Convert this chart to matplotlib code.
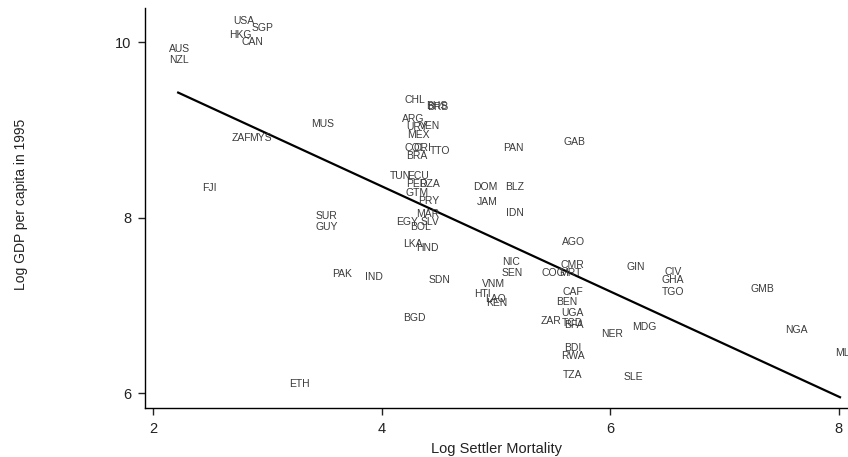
"""
plot.py

Log GDP per capita in 1995 against log settler mortality,
one country code per observation, with a fitted line.
"""

import matplotlib

matplotlib.use("Agg")

import matplotlib.pyplot as plt
import numpy as np

####################################################################
# DATA
####################################################################

countries = [
    "USA", "SGP", "HKG", "CAN", "AUS", "NZL", "ZAF", "MYS", "MUS", "FJI",
    "SUR", "GUY", "PAK", "IND", "SDN", "BGD", "ETH", "LKA", "HND", "CHL",
    "BHS", "BRB", "ARG", "URY", "VEN", "MEX", "COL", "CRI", "TTO", "BRA",
    "TUN", "ECU", "PER", "DZA", "GTM", "PRY", "MAR", "EGY", "BOL", "SLV",
    "DOM", "BLZ", "JAM", "IDN", "PAN", "NIC", "SEN", "VNM", "HTI", "LAO",
    "KEN", "COG", "MRT", "CMR", "AGO", "GAB", "CAF", "BEN", "UGA", "ZAR",
    "TCD", "BFA", "BDI", "RWA", "TZA", "NER", "SLE", "MDG", "GIN", "CIV",
    "GHA", "TGO", "GMB", "NGA", "MLI",
]

log_mortality = [
    2.79, 2.96, 2.76, 2.87, 2.23, 2.23, 2.77, 2.94, 3.48, 2.49,
    3.52, 3.52, 3.65, 3.93, 4.51, 4.29, 3.28, 4.27, 4.40, 4.29,
    4.48, 4.49, 4.28, 4.31, 4.42, 4.32, 4.29, 4.36, 4.51, 4.31,
    4.16, 4.32, 4.31, 4.42, 4.31, 4.41, 4.40, 4.22, 4.34, 4.42,
    4.91, 5.16, 4.92, 5.17, 5.15, 5.13, 5.14, 4.98, 4.88, 5.00,
    5.01, 5.50, 5.65, 5.67, 5.68, 5.69, 5.67, 5.62, 5.67, 5.48,
    5.67, 5.68, 5.67, 5.67, 5.67, 6.02, 6.20, 6.30, 6.22, 6.55,
    6.55, 6.55, 7.33, 7.63, 8.04,
]

log_gdp = [
    10.24, 10.17, 10.08, 10.01, 9.93, 9.80, 8.91, 8.91, 9.07, 8.34,
    8.02, 7.90, 7.36, 7.32, 7.29, 6.86, 6.11, 7.70, 7.66, 9.34,
    9.27, 9.26, 9.13, 9.04, 9.05, 8.94, 8.80, 8.80, 8.76, 8.71,
    8.48, 8.48, 8.39, 8.38, 8.28, 8.19, 8.04, 7.95, 7.90, 7.95,
    8.35, 8.35, 8.18, 8.05, 8.80, 7.50, 7.37, 7.25, 7.13, 7.07,
    7.03, 7.37, 7.37, 7.46, 7.72, 8.86, 7.15, 7.04, 6.92, 6.82,
    6.80, 6.78, 6.51, 6.42, 6.21, 6.68, 6.19, 6.76, 7.44, 7.38,
    7.29, 7.15, 7.19, 6.72, 6.46,
]

# fitted line: log_gdp = intercept + slope * log_mortality
fit_intercept = 10.76
fit_slope = -0.60
fit_range = [2.22, 8.01]

####################################################################
# PLOT
####################################################################

plt.rcParams["font.family"] = ["Liberation Sans", "DejaVu Sans"]

fig = plt.figure(figsize=(8.48, 4.57), dpi=100)
ax = fig.add_axes([0.171, 0.107, 0.829, 0.875])

for name, x, y in zip(countries, log_mortality, log_gdp):
    ax.text(
        x,
        y,
        name,
        ha="center",
        va="center",
        fontsize=7.5,
        color="#3a3a3a",
    )

fit_x = np.array(fit_range)
fit_y = fit_intercept + fit_slope * fit_x
ax.plot(fit_x, fit_y, color="black", linewidth=1.6)

ax.set_xlim(1.93, 8.08)
ax.set_ylim(5.83, 10.39)

ax.set_xticks([2, 4, 6, 8])
ax.set_yticks([6, 8, 10])

ax.spines["top"].set_visible(False)
ax.spines["right"].set_visible(False)
ax.spines["left"].set_linewidth(1.0)
ax.spines["bottom"].set_linewidth(1.0)

ax.tick_params(
    direction="out",
    length=5,
    width=1.0,
    pad=5,
    labelsize=10.5,
    colors="#222222",
)

ax.set_xlabel("Log Settler Mortality", fontsize=10.5, color="#222222", labelpad=4)
ax.set_ylabel("Log GDP per capita in 1995", fontsize=10, color="#222222")
ax.yaxis.set_label_coords(-0.166, 0.51)

fig.savefig("out.png", dpi=100)
plt.close(fig)
